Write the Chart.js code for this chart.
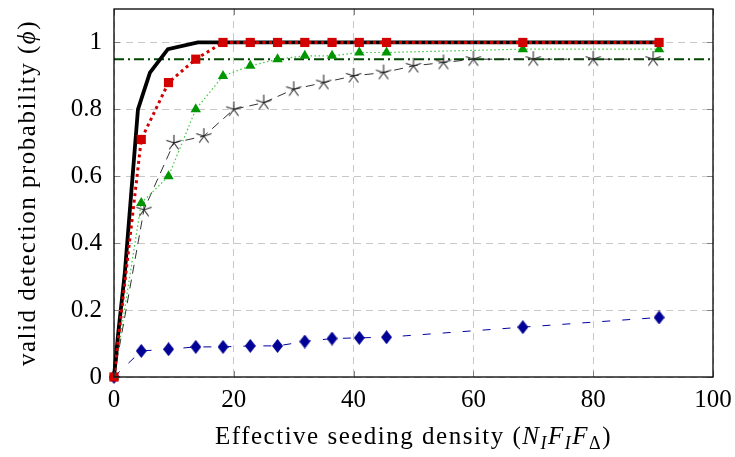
<!DOCTYPE html>
<html>
<head>
<meta charset="utf-8">
<script src="https://cdn.jsdelivr.net/npm/chart.js@4.4.1/dist/chart.umd.min.js"></script>
<style>
  html, body { margin: 0; padding: 0; background: #fff; }
  #wrap { width: 735px; height: 457px; }
</style>
</head>
<body>
<div id="wrap"><canvas id="myChart" width="735" height="457"></canvas></div>
<script>
// sampled seeding densities (markers)
const seedingX = [0, 4.55, 9.1, 13.65, 18.2, 22.75, 27.3, 31.85, 36.4, 40.95, 45.5, 68.25, 91];
const redY = [0, 0.71, 0.88, 0.95, 1, 1, 1, 1, 1, 1, 1, 1, 1];
const greenY = [0, 0.52, 0.60, 0.80, 0.90, 0.93, 0.95, 0.96, 0.96, 0.97, 0.97, 0.98, 0.98];
const blueY = [0, 0.078, 0.083, 0.09, 0.09, 0.093, 0.093, 0.106, 0.115, 0.117, 0.119, 0.149, 0.178];

// solid black curve
const theoryX = [0, 0.7, 1.8, 4, 6, 9, 14, 91];
const theoryY = [0, 0.13, 0.31, 0.8, 0.91, 0.98, 1, 1];

// star series
const starX = [0, 5, 10, 15, 20, 25, 30, 35, 40, 45, 50, 55, 60, 70, 80, 90];
const starY = [0, 0.5, 0.7, 0.72, 0.8, 0.82, 0.86, 0.88, 0.9, 0.91, 0.93, 0.94, 0.95, 0.95, 0.95, 0.95];

// 95% threshold
const thresholdX = [0, 100];
const thresholdY = [0.95, 0.95];

const xTicks = [0, 20, 40, 60, 80, 100];
const yTicks = [0, 0.2, 0.4, 0.6, 0.8, 1];

const FONT = "'Liberation Serif', 'DejaVu Serif', serif";
const FSIZE = 25;

function pts(xs, ys) {
    return xs.map((x, i) => ({ x: x, y: ys[i] }));
}

// tall diamond marker
function diamond(w, h, color) {
    const c = document.createElement('canvas');
    c.width = w; c.height = h;
    const g = c.getContext('2d');
    g.fillStyle = color;
    g.beginPath();
    g.moveTo(w / 2, 0);
    g.lineTo(w, h / 2);
    g.lineTo(w / 2, h);
    g.lineTo(0, h / 2);
    g.closePath();
    g.fill();
    return c;
}

// five spoke asterisk marker
function star5(r, color) {
    const c = document.createElement('canvas');
    c.width = 2 * r + 2; c.height = 2 * r + 2;
    const g = c.getContext('2d');
    g.strokeStyle = color;
    g.lineWidth = 1.1;
    g.beginPath();
    for (let k = 0; k < 5; k++) {
        const ang = -Math.PI / 2 + k * 2 * Math.PI / 5;
        g.moveTo(r + 1, r + 1);
        g.lineTo(r + 1 + r * Math.cos(ang), r + 1 + r * Math.sin(ang));
    }
    g.stroke();
    return c;
}

// no extra label margins, plot area fixed by the layout
function fixScale(s, size) {
    if (s.isHorizontal()) s.height = size; else s.width = size;
    s.paddingTop = 0; s.paddingBottom = 0;
    s.paddingLeft = 0; s.paddingRight = 0;
}

// draws the box, inner tick marks and the axis titles
const framePlugin = {
    id: 'frame',
    afterDraw(chart) {
        const ctx = chart.ctx;
        const a = chart.chartArea;
        const xs = chart.scales.x, ys = chart.scales.y;
        ctx.save();
        ctx.strokeStyle = 'rgb(130,130,130)';
        ctx.lineWidth = 1;
        ctx.beginPath();
        xTicks.forEach(t => {
            const px = Math.round(xs.getPixelForValue(t)) + 0.5;
            ctx.moveTo(px, a.bottom); ctx.lineTo(px, a.bottom - 6);
            ctx.moveTo(px, a.top); ctx.lineTo(px, a.top + 6);
        });
        yTicks.forEach(t => {
            const py = Math.round(ys.getPixelForValue(t)) + 0.5;
            ctx.moveTo(a.left, py); ctx.lineTo(a.left + 6, py);
            ctx.moveTo(a.right, py); ctx.lineTo(a.right - 6, py);
        });
        ctx.stroke();

        ctx.strokeStyle = '#000';
        ctx.lineWidth = 1.3;
        ctx.strokeRect(a.left, a.top, a.right - a.left, a.bottom - a.top);

        // x axis title
        const parts = [
            { t: 'Effective seeding density (', it: false, sub: false },
            { t: 'N', it: true, sub: false },
            { t: 'I', it: true, sub: true },
            { t: 'F', it: true, sub: false },
            { t: 'I', it: true, sub: true },
            { t: 'F', it: true, sub: false },
            { t: 'Δ', it: false, sub: true },
            { t: ')', it: false, sub: false }
        ];
        const fontOf = p => (p.it ? 'italic ' : '') + (p.sub ? 18 : FSIZE) + 'px ' + FONT;
        ctx.letterSpacing = '1.5px';
        let total = 0;
        parts.forEach(p => { ctx.font = fontOf(p); p.w = ctx.measureText(p.t).width; total += p.w; });
        let cx = (a.left + a.right) / 2 - total / 2;
        const base = 444;
        ctx.fillStyle = '#000';
        ctx.textBaseline = 'alphabetic';
        ctx.textAlign = 'left';
        parts.forEach(p => {
            ctx.font = fontOf(p);
            ctx.fillText(p.t, cx, p.sub ? base + 5 : base);
            cx += p.w;
        });

        // y axis title
        const yparts = [
            { t: 'valid detection probability (', it: false, sub: false },
            { t: 'ϕ', it: true, sub: false },
            { t: ')', it: false, sub: false }
        ];
        total = 0;
        yparts.forEach(p => { ctx.font = fontOf(p); p.w = ctx.measureText(p.t).width; total += p.w; });
        ctx.translate(35, (a.top + a.bottom) / 2);
        ctx.rotate(-Math.PI / 2);
        cx = -total / 2;
        yparts.forEach(p => {
            ctx.font = fontOf(p);
            ctx.fillText(p.t, cx, 0);
            cx += p.w;
        });
        ctx.restore();
    }
};

const ctx = document.getElementById('myChart').getContext('2d');
const myChart = new Chart(ctx, {
    type: 'line',
    data: {
        datasets: [
            {
                label: 'red',
                data: pts(seedingX, redY),
                borderColor: 'rgb(210,0,0)',
                backgroundColor: 'rgb(210,0,0)',
                borderWidth: 3,
                borderDash: [3, 3.5],
                pointStyle: 'rect',
                pointRadius: 6.5,
                pointBorderWidth: 0
            },
            {
                label: 'theory',
                data: pts(theoryX, theoryY),
                borderColor: '#000',
                borderWidth: 3.8,
                pointRadius: 0
            },
            {
                label: 'green',
                data: pts(seedingX, greenY),
                borderColor: 'rgb(60,200,60)',
                backgroundColor: 'rgb(0,150,0)',
                borderWidth: 1.2,
                borderDash: [1.5, 2.5],
                pointStyle: 'triangle',
                pointRadius: 6,
                pointBorderWidth: 0
            },
            {
                label: 'star',
                data: pts(starX, starY),
                borderColor: 'rgb(50,50,50)',
                borderWidth: 1,
                borderDash: [9, 6],
                pointStyle: star5(8, 'rgb(40,40,40)'),
                // the origin point has no visible star in the original
                pointRadius: c => (c.dataIndex === 0 ? 0 : 8)
            },
            {
                label: 'threshold',
                data: pts(thresholdX, thresholdY),
                borderColor: 'rgb(0,70,0)',
                borderWidth: 2,
                borderDash: [10, 4, 2, 4],
                pointRadius: 0
            },
            {
                label: 'blue',
                data: pts(seedingX, blueY),
                borderColor: 'rgb(0,0,160)',
                backgroundColor: 'rgb(0,0,160)',
                borderWidth: 1,
                borderDash: [8, 12],
                pointStyle: diamond(11, 14, 'rgb(0,0,150)'),
                pointRadius: 6
            }
        ]
    },
    options: {
        responsive: false,
        animation: false,
        layout: { padding: { top: 5, right: 22, left: 0, bottom: 0 } },
        datasets: { line: { clip: false } },
        plugins: {
            legend: { display: false },
            tooltip: { enabled: false }
        },
        scales: {
            x: {
                type: 'linear',
                min: 0,
                max: 100,
                afterFit: s => fixScale(s, 80),
                ticks: {
                    stepSize: 20,
                    padding: 8,
                    color: '#000',
                    font: { family: FONT, size: FSIZE }
                },
                grid: {
                    color: 'rgb(200,200,200)',
                    lineWidth: 1,
                    drawTicks: false
                },
                border: { display: false, dash: [7, 5] }
            },
            y: {
                type: 'linear',
                min: 0,
                max: 1.1,
                afterFit: s => fixScale(s, 114),
                ticks: {
                    stepSize: 0.2,
                    includeBounds: false,
                    padding: 12,
                    color: '#000',
                    font: { family: FONT, size: FSIZE },
                    callback: v => String(Math.round(v * 10) / 10)
                },
                grid: {
                    color: 'rgb(200,200,200)',
                    lineWidth: 1,
                    drawTicks: false
                },
                border: { display: false, dash: [7, 5] }
            }
        }
    },
    plugins: [framePlugin]
});
</script>
</body>
</html>
